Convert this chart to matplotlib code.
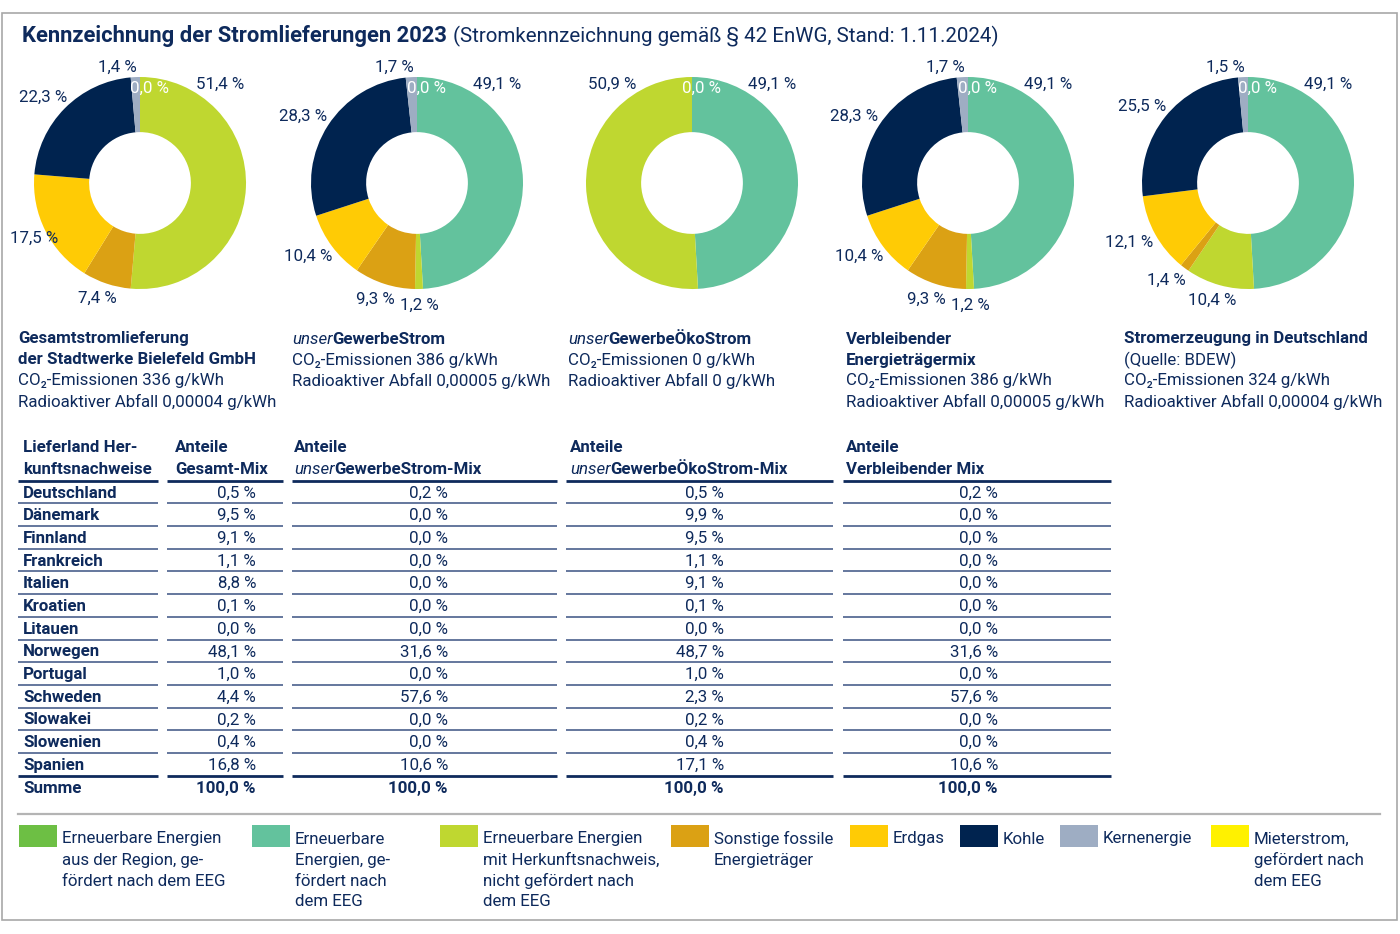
import numpy as np
import matplotlib.pyplot as plt
from matplotlib.patches import Rectangle

plt.rcParams['font.family'] = ['Roboto', 'DejaVu Sans']

NAVY = '#0e2a5c'
LINIE = '#3b5283'

# Energieträger (Reihenfolge im Ring: im Uhrzeigersinn ab 12 Uhr)
kategorien = ['Region', 'EEG', 'HKN', 'Sonstige fossile', 'Erdgas', 'Kohle', 'Kernenergie', 'Mieterstrom']
farben = ['#6dbf44', '#63c29d', '#bfd730', '#dba114', '#ffcb05', '#00234f', '#9eadc3', '#fff100']

mix_gesamt = [0.0, 0.0, 51.4, 7.4, 17.5, 22.3, 1.4, 0.0]
mix_gewerbe = [0.0, 49.1, 1.2, 9.3, 10.4, 28.3, 1.7, 0.0]
mix_oeko = [0.0, 49.1, 50.9, 0.0, 0.0, 0.0, 0.0, 0.0]
mix_verbleibend = [0.0, 49.1, 1.2, 9.3, 10.4, 28.3, 1.7, 0.0]
mix_deutschland = [0.0, 49.1, 10.4, 1.4, 12.1, 25.5, 1.5, 0.0]
alle_mixe = [mix_gesamt, mix_gewerbe, mix_oeko, mix_verbleibend, mix_deutschland]

# Texte unter den Ringen
block_titel = [
    [[('Gesamtstromlieferung', 'bold', 'normal')],
     [('der Stadtwerke Bielefeld GmbH', 'bold', 'normal')]],
    [[('unser', 'normal', 'italic'), ('GewerbeStrom', 'bold', 'normal')]],
    [[('unser', 'normal', 'italic'), ('GewerbeÖkoStrom', 'bold', 'normal')]],
    [[('Verbleibender', 'bold', 'normal')], [('Energieträgermix', 'bold', 'normal')]],
    [[('Stromerzeugung in Deutschland', 'bold', 'normal')], [('(Quelle: BDEW)', 'normal', 'normal')]],
]
co2_werte = ['336', '386', '0', '386', '324']
abfall_werte = ['0,00004', '0,00005', '0', '0,00005', '0,00004']

# Tabelle Herkunftsnachweise
laender = ['Deutschland', 'Dänemark', 'Finnland', 'Frankreich', 'Italien', 'Kroatien', 'Litauen',
           'Norwegen', 'Portugal', 'Schweden', 'Slowakei', 'Slowenien', 'Spanien']
anteil_gesamt = [0.5, 9.5, 9.1, 1.1, 8.8, 0.1, 0.0, 48.1, 1.0, 4.4, 0.2, 0.4, 16.8]
anteil_gewerbe = [0.2, 0.0, 0.0, 0.0, 0.0, 0.0, 0.0, 31.6, 0.0, 57.6, 0.0, 0.0, 10.6]
anteil_oeko = [0.5, 9.9, 9.5, 1.1, 9.1, 0.1, 0.0, 48.7, 1.0, 2.3, 0.2, 0.4, 17.1]
anteil_verbleibend = [0.2, 0.0, 0.0, 0.0, 0.0, 0.0, 0.0, 31.6, 0.0, 57.6, 0.0, 0.0, 10.6]
summen = [100.0, 100.0, 100.0, 100.0]

legende_texte = [
    'Erneuerbare Energien\naus der Region, ge-\nfördert nach dem EEG',
    'Erneuerbare\nEnergien, ge-\nfördert nach\ndem EEG',
    'Erneuerbare Energien\nmit Herkunftsnachweis,\nnicht gefördert nach\ndem EEG',
    'Sonstige fossile\nEnergieträger',
    'Erdgas',
    'Kohle',
    'Kernenergie',
    'Mieterstrom,\ngefördert nach\ndem EEG',
]


def fmt(v):
    return f'{v:.1f} %'.replace('.', ',')


fig = plt.figure(figsize=(14, 9.34), dpi=100)
ax = fig.add_axes([0, 0, 1, 1])
ax.set_xlim(0, 1400)
ax.set_ylim(934, 0)
ax.axis('off')
renderer = fig.canvas.get_renderer()
FS = 12.2


def runs(x, y, teile, size=FS, color=NAVY):
    # mehrere Textstücke nebeneinander (kursiv + fett)
    for txt, weight, style in teile:
        t = ax.text(x, y, txt, fontsize=size, fontweight=weight, fontstyle=style,
                    color=color, va='center', ha='left')
        x += t.get_window_extent(renderer).width
    return x


# Rahmen
ax.add_patch(Rectangle((1.5, 13), 1395.5, 907, fill=False, edgecolor='#a8a8a8', lw=1.2))

# Titel
x = runs(22, 36, [('Kennzeichnung der Stromlieferungen 2023', 'bold', 'normal')], size=15.8)
runs(x + 6, 36, [('(Stromkennzeichnung gemäß § 42 EnWG, Stand: 1.11.2024)', 'normal', 'normal')], size=14.8)

# Ringdiagramme
zentren_x = [140, 417, 692, 968, 1248]
zentrum_y = 183
R = 106
L = 1.5
for cx, werte in zip(zentren_x, alle_mixe):
    pax = fig.add_axes([(cx - L * R) / 1400, (934 - zentrum_y - L * R) / 934,
                        2 * L * R / 1400, 2 * L * R / 934])
    pax.pie(werte, colors=farben, startangle=90, counterclock=False,
            wedgeprops=dict(width=0.52, linewidth=0))
    pax.set_xlim(-L, L)
    pax.set_ylim(-L, L)
    pax.axis('off')
    summe = sum(werte)
    start = 0.0
    for i, v in enumerate(werte):
        ende = start + v / summe * 360
        if i == 0 and v == 0:
            w = np.radians(6)
            pax.text(0.88 * np.sin(w), 0.9 * np.cos(w), fmt(v), color='white',
                     fontsize=FS, ha='center', va='center')
        elif v > 0:
            rx, ry = 1 + 30 / R, 1 + 16 / R
            if ende - start > 120:
                w = start + 36 if start < 1 else ende - 36
            else:
                w = (start + ende) / 2
                if w > 345:
                    # schmales Segment oben: Beschriftung links daneben
                    w, rx, ry = 349, 1 + 12 / R, 1 + 12 / R
            w = np.radians(w)
            lx = max(rx * np.sin(w), (34 - cx) / R)
            pax.text(lx, ry * np.cos(w), fmt(v),
                     color=NAVY, fontsize=FS, ha='center', va='center')
        start = ende

# Beschreibungen
block_x = [18, 292, 568, 846, 1124]
for bx, titel, co2, abfall in zip(block_x, block_titel, co2_werte, abfall_werte):
    zeilen = titel + [[('CO₂-Emissionen ' + co2 + ' g/kWh', 'normal', 'normal')],
                      [('Radioaktiver Abfall ' + abfall + ' g/kWh', 'normal', 'normal')]]
    for k, z in enumerate(zeilen):
        runs(bx, 339 + k * 21, z)

# Tabelle
spalten = [(18, 158), (167, 283), (292, 557), (566, 833), (843, 1111)]
kopf_x = [23, 175, 294, 570, 846]
kopf = [
    [[('Lieferland Her-', 'bold', 'normal')], [('kunftsnachweise', 'bold', 'normal')]],
    [[('Anteile', 'bold', 'normal')], [('Gesamt-Mix', 'bold', 'normal')]],
    [[('Anteile', 'bold', 'normal')], [('unser', 'normal', 'italic'), ('GewerbeStrom-Mix', 'bold', 'normal')]],
    [[('Anteile', 'bold', 'normal')], [('unser', 'normal', 'italic'), ('GewerbeÖkoStrom-Mix', 'bold', 'normal')]],
    [[('Anteile', 'bold', 'normal')], [('Verbleibender Mix', 'bold', 'normal')]],
]
for kx, k in zip(kopf_x, kopf):
    for j, z in enumerate(k):
        runs(kx, 448 + j * 21, z)

werte_x = [256, 448, 724, 998]
spalten_werte = [anteil_gesamt, anteil_gewerbe, anteil_oeko, anteil_verbleibend]
zeile0 = 492
dz = 22.7
for r, land in enumerate(laender):
    yy = zeile0 + r * dz + 1
    ax.text(23, yy, land, fontsize=FS, fontweight='bold', color=NAVY, va='center')
    for vx, sp in zip(werte_x, spalten_werte):
        ax.text(vx, yy, fmt(sp[r]), fontsize=FS, color=NAVY, va='center', ha='right')
ys = zeile0 + len(laender) * dz + 1
ax.text(23, ys, 'Summe', fontsize=FS, fontweight='bold', color=NAVY, va='center')
for vx, s in zip(werte_x, summen):
    ax.text(vx, ys, fmt(s), fontsize=FS, fontweight='bold', color=NAVY, va='center', ha='right')

for r in range(len(laender) + 1):
    yl = zeile0 - dz / 2 + r * dz
    dick = r == 0 or r == len(laender)
    for a, b in spalten:
        ax.plot([a, b], [yl, yl], color=NAVY if dick else LINIE,
                lw=2.0 if dick else 1.1, solid_capstyle='butt')

# Trennlinie und Legende
ax.plot([18, 1380], [814, 814], color='#b4b4b4', lw=1.6)
swatch_x = [19, 252, 440, 671, 850, 960, 1060, 1211]
for sx, farbe, txt in zip(swatch_x, farben, legende_texte):
    ax.add_patch(Rectangle((sx, 825), 38, 22, facecolor=farbe, edgecolor='none'))
    for j, zeile in enumerate(txt.split('\n')):
        ax.text(sx + 43, 839 + j * 21, zeile, fontsize=FS, color=NAVY, va='center')

fig.savefig('out.png', dpi=100)
